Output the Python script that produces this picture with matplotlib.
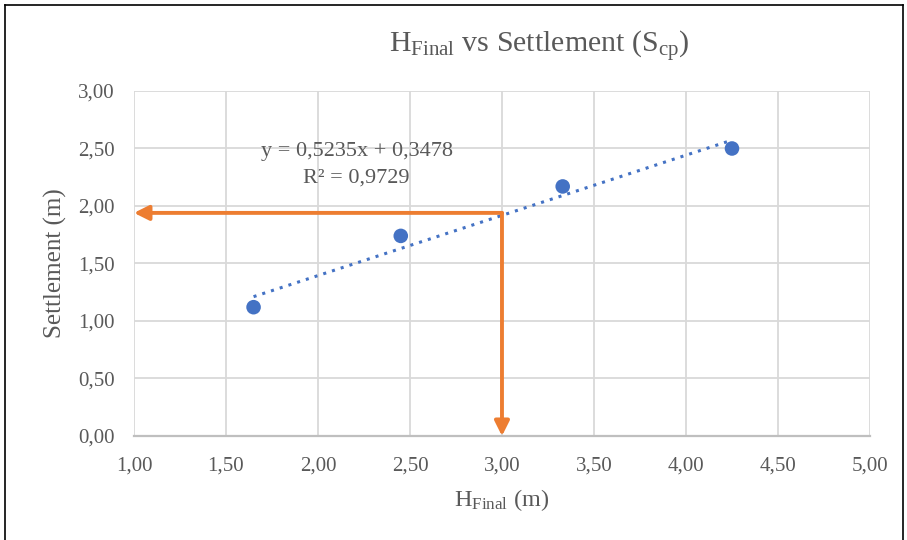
import matplotlib

matplotlib.use("Agg")
import matplotlib.pyplot as plt
import numpy as np
from matplotlib.lines import Line2D

plt.rcParams.update(
    {
        "font.family": ["Liberation Serif", "DejaVu Serif"],
        "mathtext.fontset": "custom",
        "mathtext.rm": "Liberation Serif",
        "mathtext.it": "Liberation Serif:italic",
    }
)

INK = "#595959"
GRID = "#d9d9d9"
BLUE = "#4472C4"
ORANGE = "#ED7D31"

h_final = [1.65, 2.45, 3.33, 4.25]
settlement = [1.12, 1.74, 2.17, 2.50]
slope, intercept, r2 = 0.5235, 0.3478, 0.9729
h_read = 3.00
s_read = 1.94

x_ticks = [1.0, 1.5, 2.0, 2.5, 3.0, 3.5, 4.0, 4.5, 5.0]
y_ticks = [0.0, 0.5, 1.0, 1.5, 2.0, 2.5, 3.0]

fig = plt.figure(figsize=(9.07, 5.40), dpi=100)
ax = fig.add_axes([0.1477, 0.1926, 0.8115, 0.6389])

ax.set_xlim(1.0, 5.0)
ax.set_ylim(0.0, 3.0)
ax.set_xticks(x_ticks)
ax.set_yticks(y_ticks)
ax.set_xticklabels([f"{v:.2f}".replace(".", ",") for v in x_ticks])
ax.set_yticklabels([f"{v:.2f}".replace(".", ",") for v in y_ticks])
ax.tick_params(length=0, labelsize=15, colors=INK)
ax.tick_params(axis="x", pad=15)
ax.tick_params(axis="y", pad=14)
ax.grid(color=GRID, linewidth=1.3)
ax.set_axisbelow(True)
for side in ["top", "right", "left"]:
    ax.spines[side].set_visible(False)
ax.spines["bottom"].set_color("#bfbfbf")
ax.spines["bottom"].set_linewidth(1.6)

# trendline
xt = np.array([min(h_final), max(h_final)])
ax.plot(xt, slope * xt + intercept, linestyle=(0, (1, 2)), linewidth=2.2, color=BLUE, zorder=3)
ax.scatter(h_final, settlement, s=110, color=BLUE, zorder=4, edgecolor="none")

# reading arrows
ax.annotate("", xy=(1.0, s_read), xytext=(h_read, s_read),
            arrowprops=dict(arrowstyle="-|>", color=ORANGE, lw=2.8, mutation_scale=22, shrinkA=0, shrinkB=0),
            annotation_clip=False, zorder=5)
ax.annotate("", xy=(h_read, 0.0), xytext=(h_read, s_read),
            arrowprops=dict(arrowstyle="-|>", color=ORANGE, lw=2.8, mutation_scale=22, shrinkA=0, shrinkB=0),
            annotation_clip=False, zorder=5)

ax.text(2.21, 2.47, f"y = {slope:.4f}x + {intercept:.4f}".replace(".", ","),
        ha="center", va="center", fontsize=16, color=INK)
ax.text(2.21, 2.24, f"R² = {r2:.4f}".replace(".", ","),
        ha="center", va="center", fontsize=16, color=INK)

ax.set_xlabel(r"H$_{\mathrm{Final}}$ (m)", fontsize=17.5, color=INK, labelpad=8)
ax.set_ylabel("Settlement (m)", fontsize=18, color=INK, labelpad=8)
fig.text(0.594, 0.914, r"H$_{\mathrm{Final}}$ vs Settlement (S$_{\mathrm{cp}}$)",
         ha="center", va="center", fontsize=21.5, color=INK)

# outer frame
for xs, ys in [([0.005, 0.005], [0.0, 0.99]), ([0.005, 0.996], [0.99, 0.99]), ([0.996, 0.996], [0.0, 0.99])]:
    fig.add_artist(Line2D(xs, ys, color="black", linewidth=1.2, transform=fig.transFigure))

fig.savefig("out.png", dpi=100)
